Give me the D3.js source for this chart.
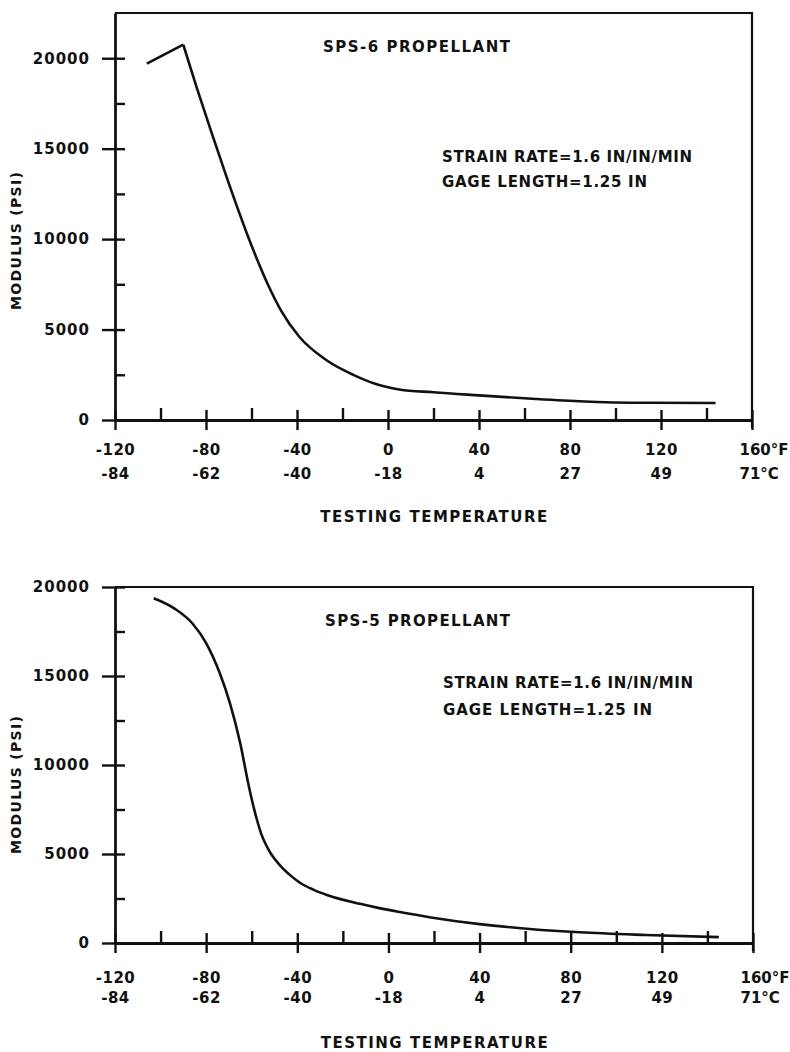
<!DOCTYPE html>
<html>
<head>
<meta charset="utf-8">
<script src="https://cdn.jsdelivr.net/npm/d3@7"></script>
<style>
    body { margin: 0; background: #fff; }
    svg text { font-family: "DejaVu Sans", sans-serif; font-weight: bold; fill: #111; }
    .axis path, .axis line { stroke: #111; }
</style>
</head>
<body>
<div id="chart"></div>
<script>
// temperature axis (deg F on top row, deg C below)
const tempTicksF = [-120, -80, -40, 0, 40, 80, 120, 160];
const tempMinorF = [-100, -60, -20, 20, 60, 100, 140];
const tempLabelsF = ["-120", "-80", "-40", "0", "40", "80", "120", "160°F"];
const tempLabelsC = ["-84", "-62", "-40", "-18", "4", "27", "49", "71°C"];

// modulus axis
const modulusTicks = [0, 5000, 10000, 15000, 20000];
const modulusMinor = [2500, 7500, 12500, 17500];

// SPS-6 curve
const sps6Temp = [-106, -90, -84, -78, -71, -62, -53, -47, -39, -27, -15, -6, 5, 20, 40, 60, 84, 114, 144];
const sps6Modulus = [19700, 20750, 18350, 16050, 13450, 10300, 7550, 6050, 4600, 3300, 2480, 2020, 1690, 1530, 1360, 1200, 1040, 950, 940];

// SPS-5 curve
const sps5Temp = [-103, -94, -86, -80, -74, -69.5, -65, -61.5, -58.5, -56, -52, -47.5, -43, -39, -33, -27, -12.5, -4, 5, 18, 40, 62, 84, 113, 145];
const sps5Modulus = [19370, 18800, 17950, 16850, 15150, 13450, 11200, 8950, 7300, 6200, 5100, 4350, 3800, 3400, 3000, 2700, 2200, 1960, 1740, 1450, 1060, 790, 600, 450, 330];

const svg = d3.select("#chart")
    .append("svg")
    .attr("width", 790)
    .attr("height", 1052);

drawPanel({
    left: 115, right: 752, top: 13, bottom: 420, yMax: 22500,
    temps: sps6Temp, moduli: sps6Modulus, sharpPeak: true,
    title: "SPS-6 PROPELLANT", titleX: 323, titleY: 47, titleW: 187,
    noteX: 442, noteY: [157, 182], noteW: [250, 205],
    rowPad: [14, 48], xTitleY: 517, yTitleY: 241
});

drawPanel({
    left: 115, right: 753, top: 587, bottom: 943, yMax: 20000,
    temps: sps5Temp, moduli: sps5Modulus, sharpPeak: false,
    title: "SPS-5 PROPELLANT", titleX: 325, titleY: 621, titleW: 185,
    noteX: 443, noteY: [683, 710], noteW: [250, 209],
    rowPad: [19, 49], xTitleY: 1043, yTitleY: 785
});

function drawPanel(p) {
    const x = d3.scaleLinear().domain([-120, 160]).range([p.left, p.right]);
    const y = d3.scaleLinear().domain([0, p.yMax]).range([p.bottom, p.top]);

    const g = svg.append("g");

    // top and right frame
    g.append("path")
        .attr("d", `M${x(-120)},${y(p.yMax)}H${x(160)}V${y(0) + 8}`)
        .attr("fill", "none")
        .attr("stroke", "#111")
        .attr("stroke-width", 2.2);

    // y axis, major ticks cross the line
    const yAxis = g.append("g")
        .attr("class", "axis")
        .attr("transform", `translate(${p.left},0)`)
        .call(d3.axisLeft(y).tickValues(modulusTicks).tickSize(13).tickSizeOuter(0)
            .tickPadding(12).tickFormat(d3.format("d")));
    yAxis.selectAll(".tick line").attr("x1", 10).attr("stroke-width", 2.4);
    yAxis.select(".domain").attr("stroke-width", 2.8);
    yAxis.selectAll("text").attr("font-size", 15).attr("letter-spacing", 1);

    g.append("g")
        .attr("class", "axis")
        .attr("transform", `translate(${p.left},0)`)
        .call(d3.axisLeft(y).tickValues(modulusMinor).tickSize(-10).tickFormat(""))
        .call(a => a.select(".domain").remove())
        .selectAll(".tick line").attr("stroke-width", 2.4);

    // x axis
    const xAxis = g.append("g")
        .attr("class", "axis")
        .attr("transform", `translate(0,${p.bottom})`)
        .call(d3.axisBottom(x).tickValues(tempTicksF).tickSize(10).tickSizeOuter(0)
            .tickPadding(p.rowPad[0]).tickFormat((d, i) => tempLabelsF[i]));
    xAxis.selectAll(".tick line").attr("y1", -10).attr("stroke-width", 2.4);
    xAxis.select(".domain").attr("stroke-width", 2.8);
    xAxis.selectAll("text").attr("font-size", 15).attr("letter-spacing", 0.5);

    const cAxis = g.append("g")
        .attr("class", "axis")
        .attr("transform", `translate(0,${p.bottom})`)
        .call(d3.axisBottom(x).tickValues(tempTicksF).tickSize(0)
            .tickPadding(p.rowPad[1]).tickFormat((d, i) => tempLabelsC[i]))
        .call(a => a.select(".domain").remove());
    cAxis.selectAll("text").attr("font-size", 15).attr("letter-spacing", 0.5);

    // the last labels carry the unit and sit right of the tick
    [xAxis, cAxis].forEach(a => a.selectAll(".tick text")
        .filter(d => d === 160)
        .attr("text-anchor", "start").attr("dx", -13)
        .attr("letter-spacing", 0));

    g.append("g")
        .attr("class", "axis")
        .attr("transform", `translate(0,${p.bottom})`)
        .call(d3.axisBottom(x).tickValues(tempMinorF).tickSize(-12).tickFormat(""))
        .call(a => a.select(".domain").remove())
        .selectAll(".tick line").attr("stroke-width", 2.4);

    // axis titles
    g.append("text")
        .attr("x", (p.left + p.right) / 2 + 1)
        .attr("y", p.xTitleY)
        .attr("dy", "0.35em")
        .attr("text-anchor", "middle")
        .attr("font-size", 15)
        .attr("letter-spacing", 1.5)
        .text("TESTING  TEMPERATURE");

    g.append("text")
        .attr("transform", `translate(16,${p.yTitleY}) rotate(-90)`)
        .attr("dy", "0.35em")
        .attr("text-anchor", "middle")
        .attr("font-size", 14)
        .attr("textLength", 138)
        .attr("lengthAdjust", "spacing")
        .text("MODULUS  (PSI)");

    // annotations
    g.append("text")
        .attr("x", p.titleX).attr("y", p.titleY).attr("dy", "0.35em")
        .attr("font-size", 15)
        .attr("textLength", p.titleW).attr("lengthAdjust", "spacing")
        .text(p.title);

    ["STRAIN  RATE=1.6 IN/IN/MIN", "GAGE  LENGTH=1.25 IN"].forEach((t, i) => {
        g.append("text")
            .attr("x", p.noteX).attr("y", p.noteY[i]).attr("dy", "0.35em")
            .attr("font-size", 15)
            .attr("textLength", p.noteW[i]).attr("lengthAdjust", "spacing")
            .text(t);
    });

    // curve
    const pts = p.temps.map((t, i) => [t, p.moduli[i]]);
    const smooth = d3.line().x(d => x(d[0])).y(d => y(d[1])).curve(d3.curveMonotoneX);
    const straight = d3.line().x(d => x(d[0])).y(d => y(d[1]));

    const pieces = p.sharpPeak
        ? [[straight, pts.slice(0, 2)], [smooth, pts.slice(1)]]
        : [[smooth, pts]];
    pieces.forEach(([fn, data]) => {
        g.append("path")
            .datum(data)
            .attr("d", fn)
            .attr("fill", "none")
            .attr("stroke", "#111")
            .attr("stroke-width", 2.6)
            .attr("stroke-linejoin", "miter");
    });
}
</script>
</body>
</html>
